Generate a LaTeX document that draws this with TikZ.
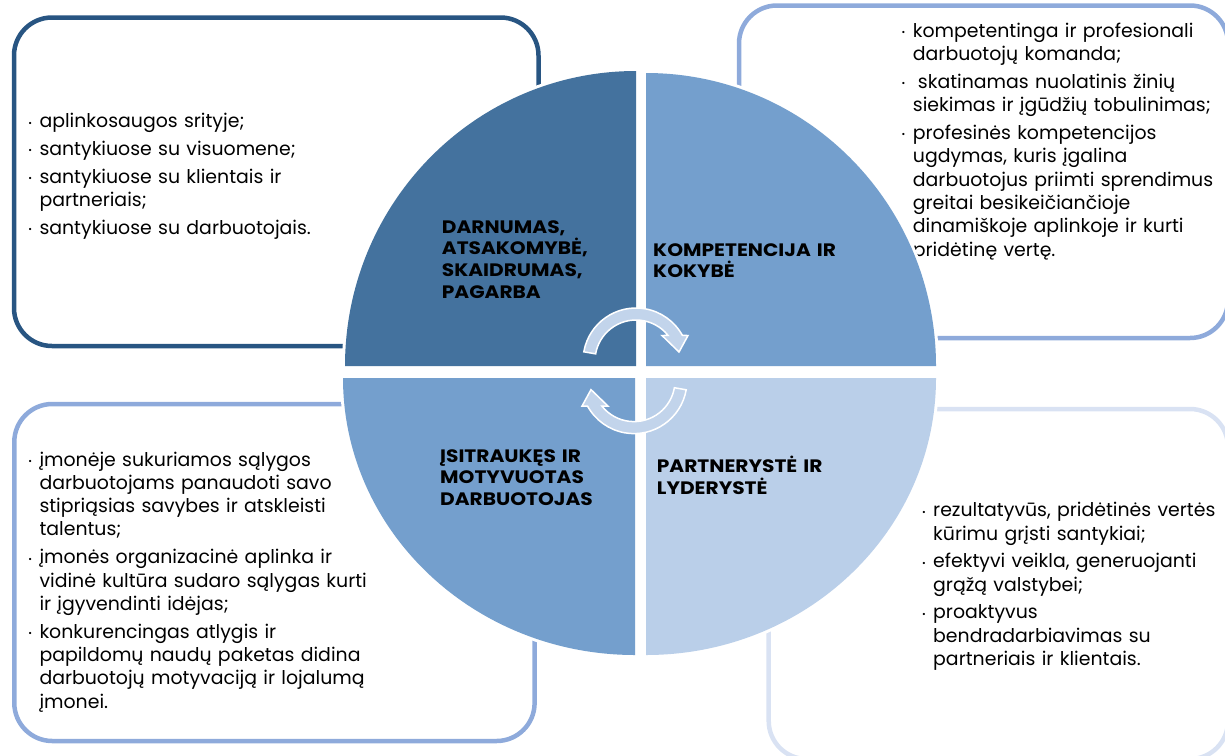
\documentclass[tikz,border=0pt]{standalone}
\usepackage{fontspec}
\setmainfont{Poppins}
\newfontfamily\lblfont{Poppins}[FakeStretch=1.12]
\definecolor{qdark}{HTML}{44729E}
\definecolor{qmid}{HTML}{749FCD}
\definecolor{qlight}{HTML}{BACFE9}
\definecolor{arrowfill}{HTML}{C2D4EB}
\definecolor{bdark}{HTML}{285582}
\definecolor{bmid}{HTML}{8EAADB}
\definecolor{blight}{HTML}{D9E2F3}
\newcommand\bul{\leavevmode\llap{{\fontsize{9}{9}\selectfont\raisebox{1.6pt}{•}}\hspace{7.5pt}}}
\newcommand\ig{4.5pt}
\begin{document}
\begin{tikzpicture}[x=1pt,y=-1pt,
  boxline/.style={line width=4.5pt, rounded corners=38pt},
  body/.style={anchor=base west, inner sep=0pt, text width=#1, align=left,
    font=\fontsize{18.9}{23.3}\selectfont},
  lbl/.style={anchor=base west, inner sep=0pt, text width=260pt, align=left,
    font=\lblfont\fontsize{18}{21.6}\selectfont\bfseries},
  halo/.style={draw=white, line width=6pt},
  carrow/.style={fill=arrowfill, draw=white, line width=1.5pt, line join=miter}]
\useasboundingbox (0,0) rectangle (1225,755);
\begin{scope}
\clip (0,0) rectangle (1225,755);
\draw[boxline, draw=bdark] (14,17.5) rectangle (538.5,346);
\draw[boxline, draw=bmid] (739,5.5) rectangle (1228,338);
\draw[boxline, draw=bmid] (14.3,404) rectangle (534.6,741);
\draw[boxline, draw=blight] (768.7,409) rectangle (1228,759);
\end{scope}
% body texts (drawn under the circle)
\node[body=400pt] (tlt) at (39.3,127.7) {\bul aplinkosaugos srityje;\\[\ig]
\bul santykiuose su visuomene;\\[\ig]
\bul santykiuose su klientais ir\\ partneriais;\\[\ig]
\bul santykiuose su darbuotojais.};
\node[body=400pt] (trt) at (912.7,37.3) {\bul kompetentinga ir profesionali\\ darbuotojų komanda;\\[\ig]
\bul \hspace*{5pt}skatinamas nuolatinis žinių\\ siekimas ir įgūdžių tobulinimas;\\[\ig]
\bul profesinės kompetencijos\\ ugdymas, kuris įgalina\\ darbuotojus priimti sprendimus\\ greitai besikeičiančioje\\ dinamiškoje aplinkoje ir kurti\\ pridėtinę vertę.};
\node[body=400pt] (blt) at (39.3,466) {\bul įmonėje sukuriamos sąlygos\\ darbuotojams panaudoti savo\\ stipriąsias savybes ir atskleisti\\ talentus;\\[\ig]
\bul įmonės organizacinė aplinka ir\\ vidinė kultūra sudaro sąlygas kurti\\ ir įgyvendinti idėjas;\\[\ig]
\bul konkurencingas atlygis ir\\ papildomų naudų paketas didina\\ darbuotojų motyvaciją ir lojalumą\\ įmonei.};
\node[body=400pt] (brt) at (933,516.7) {\bul rezultatyvūs, pridėtinės vertės\\ kūrimu grįsti santykiai;\\[\ig]
\bul efektyvi veikla, generuojanti\\ grąžą valstybei;\\[\ig]
\bul proaktyvus\\ bendradarbiavimas su\\ partneriais ir klientais.};
% quadrant halos
\path[halo] (636,366) -- (345,366) arc[start angle=180,end angle=270,x radius=291,y radius=295] -- cycle;
\path[halo] (646,366) -- (646,73) arc[start angle=270,end angle=360,x radius=290,y radius=293] -- cycle;
\path[halo] (635,378) -- (343,378) arc[start angle=180,end angle=90,x radius=292,y radius=277] -- cycle;
\path[halo] (646,378) -- (936,378) arc[start angle=0,end angle=90,x radius=290,y radius=277] -- cycle;
% quadrants
\fill[qdark] (636,366) -- (345,366) arc[start angle=180,end angle=270,x radius=291,y radius=295] -- cycle;
\fill[qmid] (646,366) -- (646,73) arc[start angle=270,end angle=360,x radius=290,y radius=293] -- cycle;
\fill[qmid] (635,378) -- (343,378) arc[start angle=180,end angle=90,x radius=292,y radius=277] -- cycle;
\fill[qlight] (646,378) -- (936,378) arc[start angle=0,end angle=90,x radius=290,y radius=277] -- cycle;
% circular arrows
\begin{scope}[shift={(636,361)}, yscale=-1]
\draw[carrow] (170:53) arc[start angle=170,end angle=28.8,radius=53] -- (52,25.5) -- (43,9) -- (26,25.5) -- (38.5:41) arc[start angle=38.5,end angle=170,radius=41] -- cycle;
\end{scope}
\begin{scope}[shift={(634,380.6)}, yscale=-1, rotate=180]
\draw[carrow] (170:53) arc[start angle=170,end angle=28.8,radius=53] -- (52,25.5) -- (43,9) -- (26,25.5) -- (38.5:41) arc[start angle=38.5,end angle=170,radius=41] -- cycle;
\end{scope}
% labels
\node[lbl] (tll) at (441.7,233.3) {DARNUMAS,\\ ATSAKOMYBĖ,\\ SKAIDRUMAS,\\ PAGARBA};
\node[lbl] (trl) at (653,256) {KOMPETENCIJA IR\\ KOKYBĖ};
\node[lbl] (bll) at (440,462) {ĮSITRAUKĘS IR\\ MOTYVUOTAS\\ DARBUOTOJAS};
\node[lbl] (brl) at (656.7,472.7) {PARTNERYSTĖ IR\\ LYDERYSTĖ};
\end{tikzpicture}
\end{document}
